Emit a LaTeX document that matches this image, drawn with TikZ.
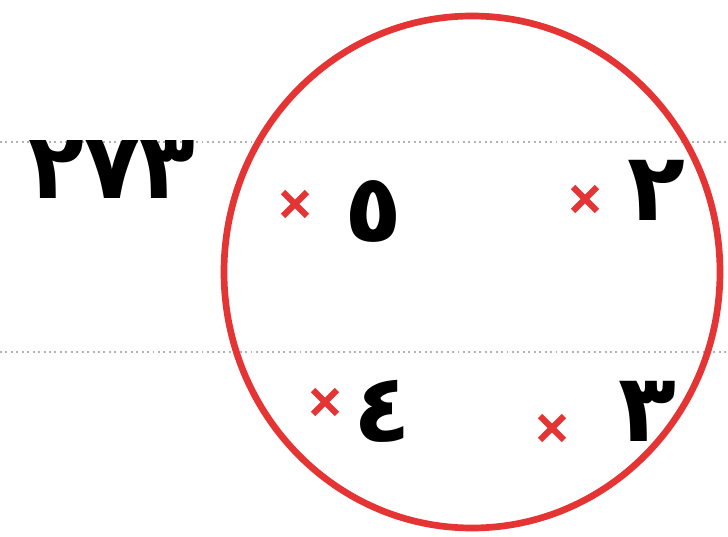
\documentclass[tikz,border=0pt]{standalone}
\usepackage{fontspec}
\newfontfamily\arabicfont[Script=Arabic]{DejaVu Sans}
\TeXXeTstate=1
\usetikzlibrary{shapes.misc}
\definecolor{penred}{RGB}{228,52,52}

\begin{document}
\begin{tikzpicture}[x=0.02cm, y=-0.02cm,
    guide/.style={black!30, dotted, line width=1.1pt},
    xmark/.style={cross out, draw=penred, line width=3.6pt, minimum size=10pt, inner sep=0pt},
    digit/.style={font=\arabicfont\bfseries\fontsize{54}{54}\selectfont}]
  \useasboundingbox (0,0) rectangle (728,537);
  % ruled lines of the page
  \draw[guide] (0,142) -- (728,142);
  \draw[guide] (0,352) -- (728,352);
  % the set
  \draw[penred, line width=3.8pt] (472,272) ellipse [x radius=248, y radius=256];
  \node[digit, font=\arabicfont\bfseries\fontsize{52}{52}\selectfont] (label) at (112,170) {٢٧٣};
  \foreach \nm/\mx/\my/\dx/\dy/\d in {five/295/204/373/211/٥, two/585/199/656/190/٢,
                                      four/325/402/382/411/٤, three/552/428/647/411/٣} {
    \node[xmark] (m\nm) at (\mx,\my) {};
    \node[digit] (d\nm) at (\dx,\dy) {\d};
  }
\end{tikzpicture}
\end{document}
